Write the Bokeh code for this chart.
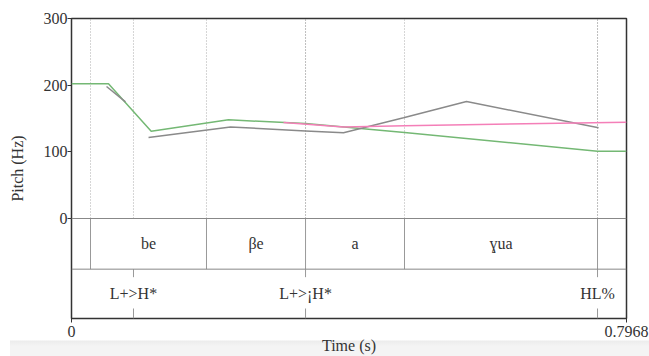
from bokeh.plotting import figure
from bokeh.models import Range1d, FixedTicker, Span, CustomJSTickFormatter
from bokeh.core.properties import value
from bokeh.embed import file_html
from bokeh.resources import INLINE

# ---- data ----
t_end = 0.7968
# pitch curves (time s, Hz)
green_t = [0.0, 0.0531, 0.1144, 0.2254, 0.3360, 0.4781, 0.7552, 0.7968]
green_hz = [202, 202, 131, 148, 142.5, 129, 101, 101]
gray1_t = [0.0503, 0.0775]
gray1_hz = [198, 175]
gray2_t = [0.1106, 0.2283, 0.3360, 0.3905, 0.4767, 0.5671, 0.7567]
gray2_hz = [121.5, 137.4, 131.4, 128.5, 151, 175.5, 136]
pink_t = [0.3044, 0.3905, 0.4781, 0.7968]
pink_hz = [144, 137.4, 139, 144.5]
# tier 1 (intervals)
bounds = [0.0273, 0.1938, 0.3360, 0.4781, 0.7552]
int_labels = ["be", "βe", "a", "ɣua"]
# tier 2 (points)
pts = [0.0890, 0.3360, 0.7552]
pt_labels = ["L+>H*", "L+>¡H*", "HL%"]
y_ticks = [0, 100, 200, 300]
x_ticks = [0, t_end]

FONT = "Liberation Serif"
TXT = "#333333"
TIER1_TOP, TIER1_BOT, TIER2_BOT = 0, -76, -150

p = figure(width=649, height=356, x_range=Range1d(0, t_end), y_range=Range1d(TIER2_BOT, 300),
           output_backend="svg", toolbar_location=None,
           min_border_left=71, min_border_right=23, min_border_top=18, min_border_bottom=38)
p.grid.visible = False
p.outline_line_color = "#333333"
p.outline_line_width = 1.5
p.background_fill_color = "white"
p.border_fill_color = None
# light screenshot band at the bottom of the page
p.styles = {"background": "linear-gradient(to right, white 10px, transparent 10px), "
                          "linear-gradient(to bottom, white 340px, #ececec 341px, #f4f4f4 346px)"}

# axes
ya = p.yaxis[0]
ya.ticker = FixedTicker(ticks=y_ticks)
ya.axis_line_color = None
ya.major_tick_out = 4
ya.major_tick_in = 0
ya.minor_tick_line_color = None
ya.major_tick_line_color = "#333333"
ya.major_label_standoff = 0
ya.major_label_text_font = FONT
ya.major_label_text_font_size = "16px"
ya.major_label_text_color = TXT
ya.axis_label = "Pitch (Hz)"
ya.axis_label_text_font = FONT
ya.axis_label_text_font_style = "normal"
ya.axis_label_text_font_size = "16px"
ya.axis_label_text_color = TXT
ya.axis_label_standoff = 15

xa = p.xaxis[0]
xa.ticker = FixedTicker(ticks=x_ticks)
xa.formatter = CustomJSTickFormatter(code="return String(tick)")
xa.axis_line_color = None
xa.major_tick_out = 4
xa.major_tick_in = 0
xa.minor_tick_line_color = None
xa.major_tick_line_color = "#333333"
xa.major_label_standoff = 3
xa.major_label_text_font = FONT
xa.major_label_text_font_size = "16px"
xa.major_label_text_color = TXT
xa.axis_label = "Time (s)"
xa.axis_label_text_font = FONT
xa.axis_label_text_font_style = "normal"
xa.axis_label_text_font_size = "16px"
xa.axis_label_text_color = TXT
xa.axis_label_standoff = -3
xa.axis_label_text_line_height = 0.3

# horizontal tier lines
p.add_layout(Span(location=TIER1_TOP, dimension="width", line_color="#888888", line_width=1))
p.add_layout(Span(location=TIER1_BOT, dimension="width", line_color="#888888", line_width=1))

# dotted extensions in pitch area
all_t = bounds + pts
p.segment(x0=all_t, y0=[TIER1_TOP] * len(all_t), x1=all_t, y1=[300] * len(all_t),
          line_color="#999999", line_dash="1 2", line_width=1, line_alpha=0.8)
# tier 1 boundaries
p.segment(x0=bounds, y0=[TIER1_TOP] * len(bounds), x1=bounds, y1=[TIER1_BOT] * len(bounds),
          line_color="#999999", line_width=1)
# tier 2 point ticks
p.segment(x0=pts, y0=[TIER1_BOT] * len(pts), x1=pts, y1=[TIER1_BOT - 12] * len(pts),
          line_color="#999999", line_width=1)
p.segment(x0=pts, y0=[TIER2_BOT] * len(pts), x1=pts, y1=[TIER2_BOT + 15] * len(pts),
          line_color="#999999", line_width=1)

# labels
mids = [(a + b) / 2 for a, b in zip(bounds[:-1], bounds[1:])]
p.text(x=mids, y=[(TIER1_TOP + TIER1_BOT) / 2] * len(mids), text=int_labels,
       text_font=value(FONT), text_font_size="16px", text_color=TXT,
       text_align="center", text_baseline="middle")
p.text(x=pts, y=[(TIER1_BOT + TIER2_BOT) / 2] * len(pts), text=pt_labels,
       text_font=value(FONT), text_font_size="16px", text_color=TXT,
       text_align="center", text_baseline="middle")

# pitch lines
p.line(green_t, green_hz, line_color="#74b874", line_width=1.5)
p.line(gray1_t, gray1_hz, line_color="#8a8a8a", line_width=1.5)
p.line(gray2_t, gray2_hz, line_color="#8a8a8a", line_width=1.5)
p.line(pink_t, pink_hz, line_color="#f47fb8", line_width=1.5)

open("out.html", "w").write(file_html(p, INLINE))
